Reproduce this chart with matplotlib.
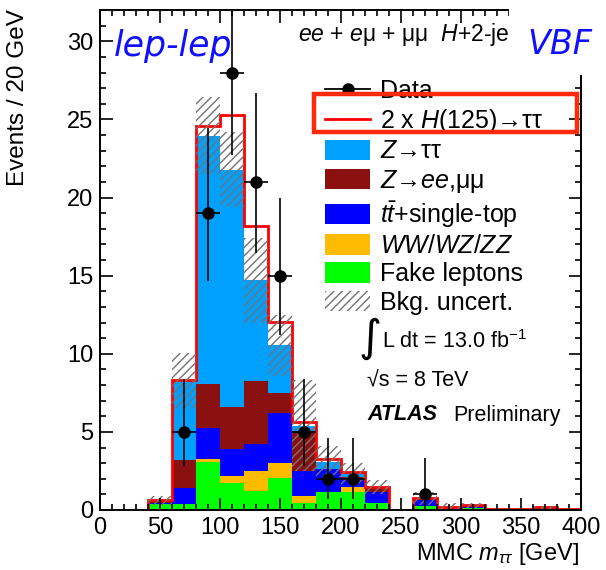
import numpy as np
import matplotlib
matplotlib.use("Agg")
import matplotlib.pyplot as plt
from matplotlib.patches import Patch, Rectangle
from matplotlib.lines import Line2D
from matplotlib.ticker import MultipleLocator

plt.rcParams['font.family'] = ['Liberation Sans', 'DejaVu Sans']
plt.rcParams['mathtext.fontset'] = 'custom'
plt.rcParams['mathtext.rm'] = 'Liberation Sans'
plt.rcParams['mathtext.it'] = 'Liberation Sans:italic'
plt.rcParams['mathtext.bf'] = 'Liberation Sans:bold'
plt.rcParams['hatch.linewidth'] = 1.0

# 20 GeV bins from 0 to 400
edges = np.arange(0, 420, 20)

# background components (events per bin)
fake = [0, 0, 0.36, 0.38, 3.07, 1.72, 1.24, 2.07, 0.45, 1.17, 1.17, 0.47, 0, 0.25, 0.2, 0.1, 0.03, 0.03, 0.05, 0.03]
diboson = [0, 0, 0, 0, 0.2, 0.45, 1.27, 0.91, 0.44, 0, 0.28, 0, 0, 0, 0, 0, 0, 0, 0, 0]
top = [0, 0, 0.06, 1.05, 1.97, 1.73, 1.71, 3.24, 1.6, 1.43, 0.6, 0.7, 0, 0.48, 0, 0.18, 0.01, 0.01, 0.1, 0.01]
zll = [0, 0, 0.2, 1.76, 2.81, 2.7, 4.02, 1.28, 2.56, 0.05, 0.04, 0.28, 0, 0.02, 0, 0, 0, 0, 0, 0]
ztt = [0, 0, 0, 5.06, 15.91, 15.17, 6.46, 3.04, 0.35, 0.44, 0.25, 0, 0, 0, 0.02, 0.02, 0.01, 0.01, 0.02, 0.01]
signal = [0, 0, 0.01, 0.06, 0.6, 3.53, 3.45, 1.49, 0.26, 0.16, 0.11, 0.01, 0, 0.01, 0, 0, 0, 0, 0, 0]
bkg_unc = [0, 0, 0.3, 1.8, 2.45, 2.4, 2.7, 1.95, 2.9, 1.0, 0.7, 0.45, 0, 0.4, 0.2, 0.15, 0.03, 0.03, 0.08, 0.03]

# data points with asymmetric poisson errors
data_x = [70, 90, 110, 130, 150, 170, 190, 210, 270]
data_n = [5, 19, 28, 21, 15, 5, 2, 2, 1]
err_lo = [2.16, 4.33, 5.26, 4.55, 3.83, 2.16, 1.29, 1.29, 0.83]
err_hi = [3.38, 5.47, 6.35, 5.72, 4.96, 3.38, 2.64, 2.64, 2.30]

c_ztt = '#00A0FF'
c_zll = '#8B1010'
c_top = '#0000FF'
c_vv = '#FFBB00'
c_fake = '#00FF00'

W, H = 606, 570
def fx(x):
    return x / W
def fy(y):
    return 1 - y / H

fig = plt.figure(figsize=(W / 100, H / 100), dpi=100)
ax = fig.add_axes([fx(100), fy(510), (581 - 100) / W, 500 / H])

# stacked backgrounds
stack = [(fake, c_fake), (diboson, c_vv), (top, c_top), (zll, c_zll), (ztt, c_ztt)]
base = np.zeros(len(edges) - 1)
for vals, col in stack:
    upper = base + np.array(vals)
    ax.stairs(upper, edges, baseline=base.copy(), fill=True, color=col, lw=0)
    base = upper
bkg = base
total = bkg + np.array(signal)

# signal on top: white fill, red outline
ax.stairs(total, edges, baseline=bkg, fill=True, color='white', lw=0)
ax.stairs(total, edges, color='red', lw=2)

# background uncertainty band
unc = np.array(bkg_unc)
ax.stairs(bkg + unc, edges, baseline=bkg - unc, fill=True, facecolor='none',
          edgecolor='0.45', hatch='////', lw=0)

ax.errorbar(data_x, data_n, xerr=10, yerr=[err_lo, err_hi], fmt='o', color='black',
            ms=8, lw=1.2, capsize=0, zorder=5)

ax.set_xlim(0, 400)
ax.set_ylim(0, 32)
ax.xaxis.set_major_locator(MultipleLocator(50))
ax.xaxis.set_minor_locator(MultipleLocator(10))
ax.yaxis.set_major_locator(MultipleLocator(5))
ax.yaxis.set_minor_locator(MultipleLocator(1))
ax.tick_params(which='both', direction='in', top=True, right=True, labelsize=17, width=1.2)
ax.tick_params(which='major', length=9, pad=5)
ax.tick_params(which='minor', length=4.5)
for s in ax.spines.values():
    s.set_linewidth(1.4)

fig.text(fx(579), fy(554), r'MMC $m_{\tau\tau}$ [GeV]', fontsize=17, ha='right', va='center')
fig.text(fx(18), fy(9), 'Events / 20 GeV', fontsize=17.5, rotation=90, ha='center', va='top')

# legend
handles = [
    Line2D([], [], color='black', marker='o', ms=8, lw=1.3),
    Line2D([], [], color='red', lw=2),
    Patch(facecolor=c_ztt),
    Patch(facecolor=c_zll),
    Patch(facecolor=c_top),
    Patch(facecolor=c_vv),
    Patch(facecolor=c_fake),
    Patch(facecolor='white', edgecolor='0.45', hatch='////', lw=0),
]
labels = ['Data', r'2 x $H$(125)→ττ', r'$Z$→ττ', r'$Z$→$ee$,μμ', r'$t\bar{t}$+single-top',
          r'$WW/WZ/ZZ$', 'Fake leptons', 'Bkg. uncert.']
ax.legend(handles, labels, loc='upper left', bbox_to_anchor=(fx(325), fy(79)),
          bbox_transform=fig.transFigure, frameon=False, fontsize=18,
          handlelength=1.8, handleheight=0.88, handletextpad=0.4,
          labelspacing=0.17, borderpad=0, borderaxespad=0)

# highlight box round the signal entry
fig.add_artist(Rectangle((fx(314), fy(132)), (577 - 314) / W, 38 / H, transform=fig.transFigure,
                         facecolor='none', edgecolor='#FF2A0A', lw=3.2, zorder=10))

# white patch over top-right corner, then VBF label
fig.add_artist(Rectangle((fx(509), fy(75)), 1 - fx(509), 75 / H, transform=fig.transFigure,
                         facecolor='white', edgecolor='none', zorder=8))
fig.text(fx(527), fy(45), 'VBF', color='#1010FF', fontsize=24, style='italic',
         family='DejaVu Sans', ha='left', va='center', zorder=11)
fig.text(fx(114), fy(46), 'lep-lep', color='#1010FF', fontsize=25, style='italic',
         family='DejaVu Sans', ha='left', va='center')
fig.text(fx(298), fy(34), r'$ee$ + $e$μ + μμ  $H$+2-jet', fontsize=16.5,
         ha='left', va='center', zorder=7)

fig.text(fx(358), fy(338), '∫', fontsize=32, ha='left', va='center', family='DejaVu Sans')
fig.text(fx(382), fy(342), r'L dt = 13.0 fb$^{-1}$', fontsize=15.5, ha='left', va='center')
fig.text(fx(367), fy(381), '√s = 8 TeV', fontsize=15.5, ha='left', va='center')
fig.text(fx(367), fy(415), 'ATLAS', fontsize=15.5, weight='bold', style='italic',
         ha='left', va='center')
fig.text(fx(453), fy(415), 'Preliminary', fontsize=15.5, ha='left', va='center')

fig.savefig('out.png', dpi=100)
